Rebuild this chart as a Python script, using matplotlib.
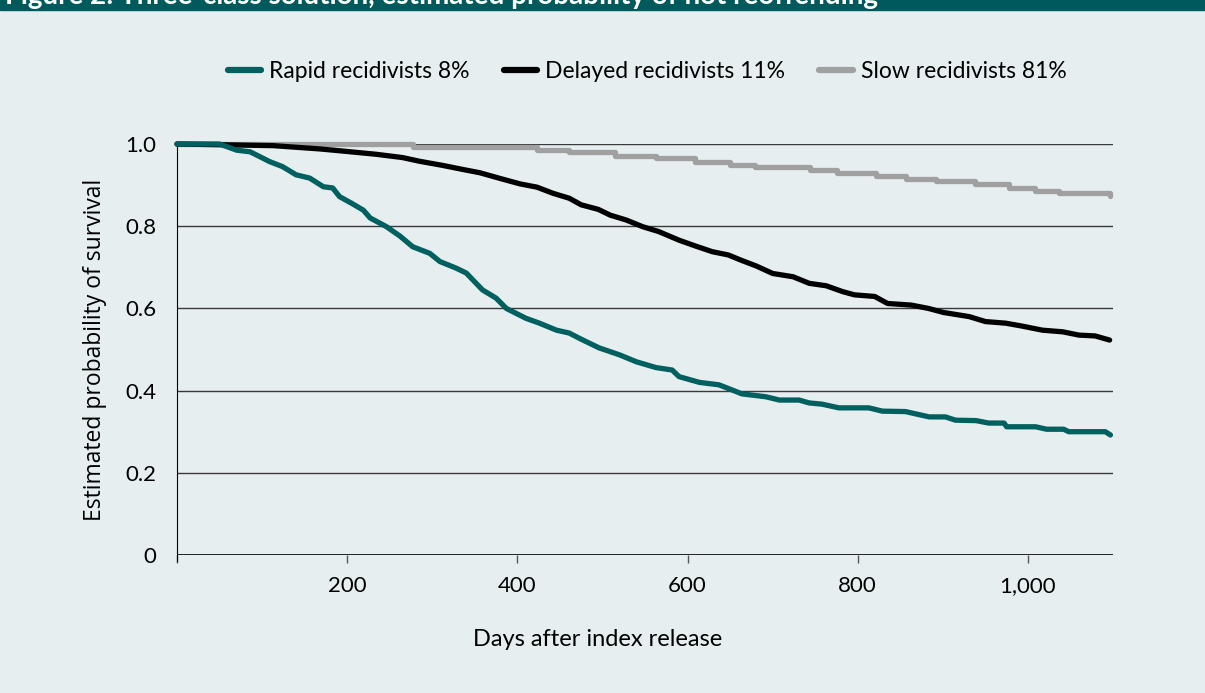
import matplotlib
matplotlib.use('Agg')
import matplotlib.pyplot as plt

# days after release / estimated survival
rapid_days = [0, 50, 70, 86, 109, 124, 140, 156, 172, 183, 191, 205, 219, 227, 246, 262, 277, 297,
              309, 328, 340, 359, 375, 387, 410, 426, 446, 461, 475, 496, 520, 540, 563, 582,
              590, 614, 637, 653, 664, 692, 708, 731, 743, 758, 778, 813, 829, 856, 884, 903,
              915, 939, 954, 972, 975, 1009, 1022, 1042, 1048, 1091, 1097]
rapid_surv = [1.0, 1.0, 0.985, 0.981, 0.957, 0.945, 0.925, 0.917, 0.896, 0.893, 0.872, 0.856, 0.839,
              0.82, 0.799, 0.776, 0.75, 0.734, 0.714, 0.698, 0.686, 0.645, 0.625, 0.60, 0.576,
              0.564, 0.547, 0.54, 0.525, 0.504, 0.487, 0.47, 0.456, 0.45, 0.434, 0.42, 0.414,
              0.401, 0.392, 0.385, 0.377, 0.377, 0.37, 0.367, 0.358, 0.358, 0.35, 0.349, 0.336,
              0.336, 0.328, 0.327, 0.321, 0.321, 0.312, 0.312, 0.306, 0.306, 0.30, 0.30, 0.292]

delayed_days = [0, 113, 168, 199, 234, 265, 285, 312, 336, 356, 380, 403, 423, 442, 461, 475, 495,
                509, 528, 547, 566, 590, 609, 629, 648, 662, 681, 700, 724, 743, 763, 782, 796,
                820, 835, 863, 883, 901, 931, 950, 974, 993, 1017, 1041, 1060, 1079, 1096]
delayed_surv = [1.0, 0.996, 0.988, 0.982, 0.975, 0.967, 0.958, 0.948, 0.938, 0.930, 0.916, 0.903,
                0.895, 0.88, 0.868, 0.852, 0.841, 0.827, 0.815, 0.799, 0.787, 0.766, 0.752, 0.738,
                0.73, 0.718, 0.703, 0.685, 0.677, 0.661, 0.655, 0.641, 0.633, 0.629, 0.612, 0.608,
                0.60, 0.59, 0.58, 0.568, 0.564, 0.557, 0.547, 0.543, 0.535, 0.533, 0.523]

slow_days = [0, 277, 423, 461, 515, 563, 609, 650, 679, 744, 776, 822, 857, 892, 938, 978, 1008,
             1037, 1086, 1097]
slow_surv = [1.0, 0.992, 0.985, 0.98, 0.972, 0.965, 0.957, 0.949, 0.943, 0.937, 0.929, 0.922,
             0.914, 0.91, 0.902, 0.892, 0.886, 0.88, 0.88, 0.874]

labels = ['Rapid recidivists 8%', 'Delayed recidivists 11%', 'Slow recidivists 81%']
colors = ['#005f5f', '#000000', '#a0a0a0']
x_ticks = [0, 200, 400, 600, 800, 1000]
x_ticklabels = ['', '200', '400', '600', '800', '1,000']
y_ticks = [0, 0.2, 0.4, 0.6, 0.8, 1.0]
y_ticklabels = ['0', '0.2', '0.4', '0.6', '0.8', '1.0']

bg = '#e6eef0'
fig = plt.figure(figsize=(12.05, 6.93), dpi=100, facecolor=bg)
ax = fig.add_axes([177 / 1205, 1 - 555 / 693, (1113 - 177) / 1205, (555 - 144) / 693])
ax.set_facecolor(bg)

# title bar (cut off at the top in the source)
fig.patches.append(plt.Rectangle((0, 1 - 10 / 693), 1, 10 / 693, transform=fig.transFigure,
                                 color='#005a5c', zorder=0))
fig.text(0.004, 1 - 4 / 693, 'Figure 2: Three-class solution, estimated probability of not reoffending',
         color='white', fontsize=20, fontweight='bold', family='Lato', va='baseline', ha='left')

for y in y_ticks[1:]:
    ax.axhline(y, color='#3a3a3a', lw=1, zorder=1)
ax.axhline(0, color='black', lw=1.2, zorder=1)

ax.plot(rapid_days, rapid_surv, color=colors[0], lw=3.8, label=labels[0], zorder=4,
        solid_capstyle='round', clip_on=False)
ax.plot(delayed_days, delayed_surv, color=colors[1], lw=3.8, label=labels[1], zorder=3,
        solid_capstyle='round', clip_on=False)
ax.plot(slow_days, slow_surv, color=colors[2], lw=3.8, label=labels[2], zorder=2,
        drawstyle='steps-post', solid_capstyle='round', clip_on=False)

ax.set_xlim(0, 1100)
ax.set_ylim(0, 1.0)
ax.set_xticks(x_ticks)
ax.set_xticklabels(x_ticklabels, family='Lato', fontsize=16)
ax.set_yticks(y_ticks)
ax.set_yticklabels(y_ticklabels, family='Lato', fontsize=16)
ax.tick_params(axis='x', length=6, width=1, color='#555555', pad=9)
ax.tick_params(axis='y', length=0, pad=15)
for s in ['top', 'right', 'bottom']:
    ax.spines[s].set_visible(False)
ax.spines['left'].set_color('black')
ax.spines['left'].set_bounds(-0.015, 1.0)

ax.set_ylabel('Estimated probability of survival', family='Open Sans', fontsize=16.5, labelpad=13)
fig.text(598 / 1205, 1 - 640 / 693, 'Days after index release', family='Lato', fontsize=17,
         ha='center', va='center')

leg = fig.legend(loc='center', bbox_to_anchor=(647 / 1205, 1 - 72 / 693), ncol=3, frameon=False,
                 prop={'family': 'Lato', 'size': 16.5}, handlelength=1.45, handletextpad=0.35,
                 columnspacing=1.5)
for h in leg.get_lines():
    h.set_linewidth(4.5)

fig.savefig('out.png', dpi=100, facecolor=bg)
